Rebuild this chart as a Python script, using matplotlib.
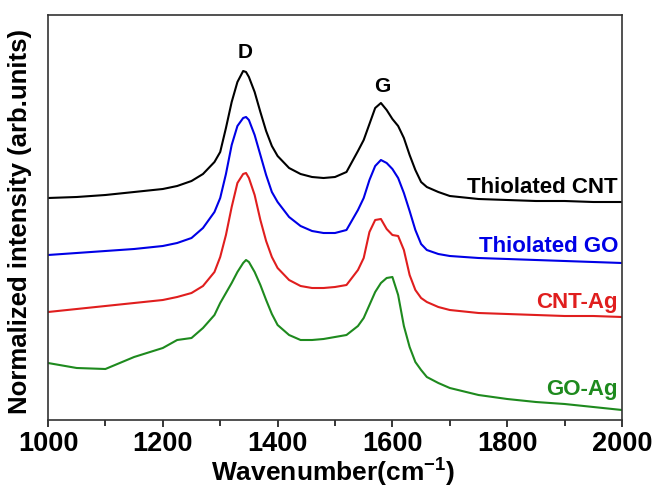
import matplotlib
matplotlib.use("Agg")
import matplotlib.pyplot as plt
from matplotlib.ticker import MultipleLocator

plt.rcParams['font.family'] = ['Liberation Sans', 'DejaVu Sans']
plt.rcParams['font.weight'] = 'bold'
plt.rcParams['mathtext.fontset'] = 'custom'
plt.rcParams['mathtext.rm'] = 'Liberation Sans:bold'
plt.rcParams['mathtext.default'] = 'rm'

wavenumber = [1000, 1050, 1100, 1150, 1200, 1225, 1250, 1270, 1290, 1300, 1310, 1320,
              1330, 1340, 1345, 1350, 1360, 1370, 1380, 1390, 1400, 1420, 1440, 1460,
              1480, 1500, 1520, 1540, 1550, 1560, 1570, 1580, 1590, 1600, 1610, 1620,
              1630, 1640, 1650, 1660, 1680, 1700, 1750, 1800, 1850, 1900, 1950, 2000]

# offset intensities (arb. units)
thiolated_cnt = [222, 223, 225, 228, 231, 234, 239, 246, 258, 268, 292, 318,
                 338, 349, 348, 343, 328, 308, 289, 274, 264, 252, 246, 243,
                 242, 243, 248, 269, 280, 296, 312, 317, 310, 301, 294, 282,
                 265, 250, 238, 233, 228, 224, 221, 220, 219, 219, 218, 218]
thiolated_go = [165, 167, 169, 171, 174, 177, 182, 192, 208, 222, 246, 275,
                294, 302, 303, 300, 285, 265, 245, 228, 218, 203, 194, 189,
                187, 187, 190, 210, 222, 240, 254, 260, 257, 251, 242, 227,
                209, 190, 176, 170, 166, 164, 162, 161, 160, 159, 158, 157]
cnt_ag = [108, 111, 114, 117, 120, 123, 127, 134, 148, 163, 185, 213,
          237, 246, 247, 242, 225, 200, 179, 163, 152, 140, 134, 132,
          132, 133, 135, 150, 162, 188, 200, 201, 191, 185, 184, 170,
          145, 130, 122, 118, 113, 110, 107, 106, 105, 104, 104, 103]
go_ag = [57, 52, 51, 63, 72, 80, 82, 92, 105, 117, 127, 137,
         148, 157, 160, 158, 148, 135, 120, 106, 95, 85, 80, 80,
         81, 83, 85, 94, 102, 115, 128, 137, 142, 143, 125, 94,
         73, 58, 50, 43, 37, 32, 25, 21, 18, 16, 13, 10]

series = [
    ("Thiolated CNT", thiolated_cnt, "#000000"),
    ("Thiolated GO", thiolated_go, "#0000e6"),
    ("CNT-Ag", cnt_ag, "#e01e1e"),
    ("GO-Ag", go_ag, "#1e8a1e"),
]
label_baselines = [227, 168, 112, 25]
peak_labels = [("D", 1343, 367), ("G", 1582, 334)]

fig = plt.figure(figsize=(6.52, 4.88), dpi=100)
ax = fig.add_axes([48/652, 1 - 420/488, 574/652, 405/488])

for (name, vals, col), yb in zip(series, label_baselines):
    ax.plot(wavenumber, vals, color=col, lw=1.5)
    ax.text(1993, yb, name, color=col, fontsize=16, fontweight='bold',
            ha='right', va='baseline')

for lab, xx, yy in peak_labels:
    ax.text(xx, yy, lab, fontsize=15, fontweight='bold', ha='center', va='center')

ax.set_xlim(1000, 2000)
ax.set_ylim(0, 405)
ax.xaxis.set_major_locator(MultipleLocator(200))
ax.xaxis.set_minor_locator(MultipleLocator(100))
ax.tick_params(axis='x', which='major', direction='out', length=5, width=1.1,
               labelsize=19.5, pad=3)
ax.tick_params(axis='x', which='minor', direction='out', length=4, width=1.1)
ax.set_yticks([])
for sp in ax.spines.values():
    sp.set_linewidth(1.2)
    sp.set_color('#333333')
for lbl in ax.get_xticklabels():
    lbl.set_fontweight('bold')

fig.text(333/652, 1 - 482/488, r'Wavenumber(cm$^{-1}$)', fontsize=19,
         fontweight='bold', ha='center', va='baseline')
fig.text(20/652, 1 - 222/488, 'Normalized intensity (arb.units)', fontsize=18.5,
         fontweight='bold', ha='center', va='center', rotation=90)

fig.savefig("out.png", dpi=100)
